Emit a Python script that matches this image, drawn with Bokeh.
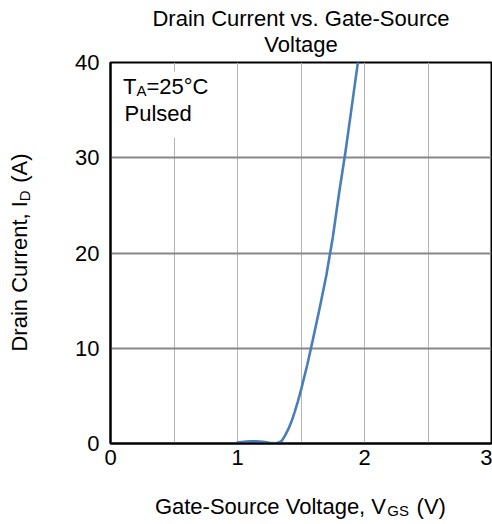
import math
from bokeh.plotting import figure
from bokeh.models import Label, FixedTicker
from bokeh.embed import file_html
from bokeh.resources import INLINE

# ---- data ----
vgs = [1.00, 1.05, 1.10, 1.15, 1.20, 1.25, 1.30, 1.325, 1.35, 1.375, 1.40, 1.425, 1.45,
       1.475, 1.50, 1.55, 1.60, 1.65, 1.70, 1.75, 1.80, 1.85, 1.90, 1.95, 1.96]
i_d = [0.10, 0.18, 0.22, 0.22, 0.18, 0.08, 0.02, 0.10, 0.30, 0.85, 1.50, 2.30, 3.30,
       4.40, 5.60, 8.30, 11.3, 14.4, 17.7, 21.6, 26.3, 30.6, 35.4, 40.2, 41.2]
x_ticks = [0, 1, 2, 3]
x_grid = [0.5, 1.0, 1.5, 2.0, 2.5]
y_ticks = [0, 10, 20, 30, 40]
y_grid = [10, 20, 30]

FONT = "Liberation Sans"
NB = "\u00a0"
FS = 22      # main text size
SS = 15      # subscript size

W, H = 492, 522
FL, FR, FT, FB = 110, 491, 62, 443
def sx(px):
    return (px - FL) / (FR - FL) * 3.0
def sy(py):
    return (FB - py) / (FB - FT) * 40.0

p = figure(width=W, height=H, x_range=(0, 3), y_range=(0, 40),
           output_backend="svg", toolbar_location=None,
           min_border_left=FL, min_border_right=W - FR,
           min_border_top=FT, min_border_bottom=H - FB)
p.outline_line_color = "black"
p.outline_line_width = 2

for ax in (p.xaxis[0], p.yaxis[0]):
    ax.axis_line_color = "black"
    ax.axis_line_width = 2
    ax.major_tick_line_color = None
    ax.minor_tick_line_color = None
    ax.major_tick_out = 0
    ax.major_tick_in = 0
    ax.minor_tick_out = 0
    ax.major_label_text_font = FONT
    ax.major_label_text_font_size = f"{FS}px"
    ax.major_label_text_color = "black"

p.xaxis.ticker = FixedTicker(ticks=x_ticks)
p.yaxis.ticker = FixedTicker(ticks=y_ticks)
p.xaxis.major_label_standoff = 6
p.yaxis.major_label_standoff = 11

p.xgrid.ticker = FixedTicker(ticks=x_grid)
p.ygrid.ticker = FixedTicker(ticks=y_grid)
p.xgrid.grid_line_color = "#b4b4b4"
p.xgrid.grid_line_width = 1
p.ygrid.grid_line_color = "#878787"
p.ygrid.grid_line_width = 2

# white box behind the annotation
p.quad(left=sx(112), right=sx(217), top=sy(71), bottom=sy(137),
       fill_color="white", line_color=None)

p.line(vgs, i_d, line_color="#4a7ebb", line_width=2.6, line_join="round", line_cap="round")

def lab(x, y, text, size, angle=0.0, align="left"):
    p.add_layout(Label(x=x, y=y, text=text, text_font=FONT, text_font_size=f"{size}px",
                       text_color="black", text_baseline="middle", text_align=align,
                       angle=angle))

def clab(x, y, text, size, side, angle=0.0, align="left"):
    p.add_layout(Label(x=x, y=y, x_units="canvas", y_units="canvas", text=text,
                       text_font=FONT, text_font_size=f"{size}px",
                       text_color="black", text_baseline="middle", text_align=align,
                       angle=angle), side)

# title (in the top panel so it is not clipped)
clab((FL + FR) / 2, 18, "Drain Current vs. Gate-Source", FS, "above", align="center")
clab((FL + FR) / 2, 44, "Voltage", FS, "above", align="center")

# annotation inside the frame
tx = 122.5
lab(sx(tx), sy(86), "T", FS)
lab(sx(tx + 0.611 * FS), sy(90), "A", SS)
lab(sx(tx + 0.611 * FS + 0.667 * SS), sy(86), "=25°C", FS)
lab(sx(124), sy(113), "Pulsed", FS)

# x axis label with subscript (below panel / left panel)
xw = (10.561 + 5 * 0.278 + 1.333) * FS
x_start = (FL + FR) / 2 - xw / 2
clab(x_start, 506, "Gate-Source Voltage, V" + NB * 5 + "(V)", FS, "below")
clab(x_start + 10.561 * FS, 510, "GS", SS, "left")

# y axis label (rotated) with subscript, in the left panel
yw = (6.835 + 3 * 0.278 + 1.333) * FS
y_start = 252 + yw / 2
clab(19, y_start, "Drain Current, I" + NB * 3 + "(A)", FS, "left", angle=math.pi / 2)
clab(24, y_start - 6.835 * FS, "D", SS, "left", angle=math.pi / 2)

open("out.html", "w").write(file_html(p, INLINE))
